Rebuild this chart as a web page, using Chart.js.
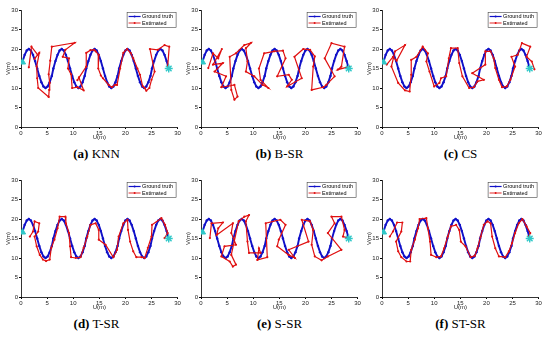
<!DOCTYPE html>
<html>
<head>
<meta charset="utf-8">
<script src="https://cdn.jsdelivr.net/npm/chart.js@4.4.0/dist/chart.umd.min.js"></script>
<style>
  body { margin: 0; background: #fff; width: 550px; height: 337px; overflow: hidden; }
  .panel { position: absolute; width: 183px; height: 145px; }
  .cap { position: absolute; width: 183px; text-align: center; font-family: "Liberation Serif", "DejaVu Serif", serif; font-size: 13px; color: #000; }
  .cap b { font-weight: bold; }
</style>
</head>
<body>
<div class="panel" style="left:0;top:0"><canvas id="c0" width="183" height="145"></canvas></div>
<div class="panel" style="left:180px;top:0"><canvas id="c1" width="183" height="145"></canvas></div>
<div class="panel" style="left:361px;top:0"><canvas id="c2" width="183" height="145"></canvas></div>
<div class="panel" style="left:0;top:170px"><canvas id="c3" width="183" height="145"></canvas></div>
<div class="panel" style="left:180px;top:170px"><canvas id="c4" width="183" height="145"></canvas></div>
<div class="panel" style="left:361px;top:170px"><canvas id="c5" width="183" height="145"></canvas></div>
<div class="cap" style="left:5px;top:146px"><b>(a)</b> KNN</div>
<div class="cap" style="left:188px;top:146px"><b>(b)</b> B-SR</div>
<div class="cap" style="left:369px;top:146px"><b>(c)</b> CS</div>
<div class="cap" style="left:5px;top:316px"><b>(d)</b> T-SR</div>
<div class="cap" style="left:188px;top:316px"><b>(e)</b> S-SR</div>
<div class="cap" style="left:369px;top:316px"><b>(f)</b> ST-SR</div>
<script>
// tick labels (both axes)
const uTicks = [0, 5, 10, 15, 20, 25, 30];
const vTicks = [0, 5, 10, 15, 20, 25, 30];
const seriesNames = ['Ground truth', 'Estimated'];

// start / end of the track
const startPt = [0.3, 16.6];
const endPt = [28.3, 15.0];

// ground truth track (U, V)
const truth = [
  [0.3,16.8],[0.7,18.5],[1.1,19.6],[1.5,20],[1.9,19.6],[2.3,18.5],[2.7,16.9],[3.1,15],[3.5,13.1],[3.9,11.5],
  [4.3,10.4],[4.7,10],[5.1,10.4],[5.5,11.5],[5.9,13.1],[6.2,15],[6.6,16.9],[7.0,18.5],[7.4,19.6],[7.8,20],
  [8.2,19.6],[8.6,18.5],[9.0,16.9],[9.4,15],[9.8,13.1],[10.2,11.5],[10.6,10.4],[11.0,10],[11.4,10.4],[11.8,11.5],
  [12.2,13.1],[12.5,15],[12.9,16.9],[13.3,18.5],[13.7,19.6],[14.1,20],[14.5,19.6],[14.9,18.5],[15.3,16.9],[15.7,15],
  [16.1,13.1],[16.5,11.5],[16.9,10.4],[17.3,10],[17.7,10.4],[18.1,11.5],[18.5,13.1],[18.8,15],[19.2,16.9],[19.6,18.5],
  [20.0,19.6],[20.4,20],[20.8,19.6],[21.2,18.5],[21.6,16.9],[22.0,15],[22.4,13.1],[22.8,11.5],[23.2,10.4],[23.6,10],
  [24.0,10.4],[24.4,11.5],[24.8,13.1],[25.1,15],[25.5,16.9],[25.9,18.5],[26.3,19.6],[26.7,20],[27.1,19.6],[27.5,18.5],
  [27.9,16.9],[28.3,15]
];

// estimated tracks, one per method
const knnEst = [
  [1.5,15.3],[2.0,20.6],[3.2,18.5],[2.6,17.5],[3.5,19.0],[3.0,15.5],[3.1,12.5],[3.3,10.0],[5.3,7.7],[5.4,9.5],
  [5.5,11.3],[5.3,13.5],[5.6,17.0],[5.9,20.6],[10.3,21.6],[8.5,19.8],[8.0,18.0],[9.2,17.6],[9.0,15.0],[9.6,13.5],
  [9.8,10.0],[10.8,10.2],[12.0,9.4],[11.1,12.7],[10.8,12.0],[12.5,15.5],[12.5,19.0],[13.3,19.7],[14.0,19.8],[14.3,19.4],
  [14.9,18.5],[14.8,15.0],[15.3,13.2],[15.7,12.5],[16.8,10.8],[17.4,10.2],[18.0,10.8],[18.4,10.8],[19.0,15.0],[19.6,19.0],
  [20.3,20.0],[21.0,19.0],[21.5,17.6],[22.3,15.0],[22.8,13.4],[23.3,10.5],[23.7,10.0],[24.0,9.3],[24.6,10.0],[25.0,12.1],
  [25.6,14.2],[24.7,20.0],[26.2,19.8],[27.5,21.0],[28.4,20.6],[28.1,15.5]
];
const bsrEst = [
  [1.4,15.1],[2.3,18.9],[3.3,17.6],[4.0,20.0],[2.3,16.0],[4.2,16.4],[2.6,14.2],[4.8,13.0],[3.9,10.2],[6.4,10.8],
  [7.0,7.8],[6.4,7.0],[5.8,9.5],[5.5,18.0],[6.7,18.9],[8.3,21.0],[9.6,21.6],[8.6,20.2],[8.9,16.8],[8.6,14.2],
  [10.2,13.0],[11.8,10.8],[12.9,10.0],[11.4,12.1],[11.1,15.0],[12.1,18.9],[14.0,19.4],[15.7,19.6],[16.2,17.6],[14.6,13.0],
  [16.8,13.4],[17.4,12.1],[16.5,10.4],[19.3,12.5],[17.9,18.0],[19.6,20.0],[20.9,19.8],[21.8,18.1],[21.5,15.5],[21.2,9.5],
  [23.4,10.2],[24.0,10.8],[25.6,13.0],[23.7,17.6],[25.0,21.5],[27.5,20.6],[26.9,15.5],[26.2,14.7],[28.4,15.5]
];
const csEst = [
  [0.9,16.0],[2.1,18.0],[2.8,17.0],[4.4,21.0],[2.5,19.4],[1.8,15.5],[3.1,11.3],[4.4,9.4],[5.3,9.1],[5.6,13.4],
  [5.6,17.2],[6.6,18.0],[7.8,20.6],[8.8,18.9],[8.5,16.8],[9.1,14.2],[10.0,10.4],[11.0,11.3],[11.3,12.5],[12.3,13.0],
  [12.8,17.6],[13.2,20.2],[14.5,20.2],[14.8,16.4],[15.4,13.0],[16.7,10.0],[17.6,10.2],[18.3,11.7],[19.5,12.1],[17.3,13.8],
  [19.8,16.0],[19.8,19.4],[20.8,19.4],[21.4,17.6],[21.7,15.1],[22.4,12.1],[23.0,10.2],[23.9,10.4],[24.6,12.1],[25.5,15.5],
  [24.8,18.0],[26.0,18.5],[26.8,21.5],[28.4,20.6],[27.7,18.0],[28.7,16.8],[29.2,14.8]
];
const tsrEst = [
  [1.7,15.5],[2.3,16.8],[2.6,19.4],[3.5,18.9],[3.3,16.8],[2.6,15.5],[3.0,13.0],[3.6,10.8],[4.2,9.6],[4.8,9.2],
  [5.5,9.6],[5.8,12.6],[6.4,14.7],[7.0,17.6],[7.4,20.6],[8.5,20.6],[8.6,18.9],[9.2,16.4],[9.4,13.0],[9.6,10.2],
  [10.5,10.0],[11.4,10.2],[12.0,12.6],[12.7,15.5],[13.3,18.5],[14.3,18.9],[14.9,17.2],[14.9,14.7],[16.2,13.4],[17.7,10.2],
  [18.4,12.1],[18.7,15.5],[19.6,18.9],[20.4,19.8],[20.5,17.2],[20.9,14.2],[21.5,11.7],[22.1,10.2],[23.1,10.2],[23.7,10.0],
  [24.3,12.6],[25.0,15.5],[25.1,18.5],[26.9,20.2],[27.6,18.5],[28.1,16.4],[27.5,15.1]
];
const ssrEst = [
  [1.7,15.1],[2.0,18.9],[4.2,19.1],[3.3,17.6],[3.0,15.9],[6.1,18.9],[5.8,16.4],[6.7,13.4],[4.5,13.0],[3.9,10.4],
  [5.5,9.1],[6.1,7.8],[6.7,8.3],[5.8,10.8],[7.2,19.4],[8.3,20.6],[9.2,21.0],[8.6,19.4],[8.9,14.2],[9.2,11.3],
  [11.4,11.3],[11.1,12.5],[10.8,9.5],[12.7,10.2],[12.4,18.9],[15.2,19.8],[16.2,18.5],[14.9,14.7],[14.6,13.0],[16.8,10.8],
  [18.0,10.0],[16.8,12.1],[20.6,14.2],[19.3,19.8],[20.9,19.4],[21.5,17.2],[21.2,13.4],[21.8,10.4],[23.1,9.4],[24.3,10.4],
  [26.9,12.1],[24.3,16.4],[25.6,18.9],[25.0,20.6],[26.9,20.6],[27.5,17.2],[27.2,15.5],[28.4,15.1]
];
const stsrEst = [
  [1.5,15.5],[2.1,16.8],[2.9,19.1],[3.9,19.1],[3.7,16.8],[2.7,14.2],[3.1,11.7],[3.7,10.2],[4.7,9.1],[5.4,9.1],
  [5.6,12.1],[6.3,14.7],[6.9,17.6],[7.2,20.0],[8.5,20.2],[8.8,17.6],[9.2,14.2],[9.4,10.8],[10.4,10.2],[11.3,10.4],
  [11.9,12.5],[12.6,15.5],[13.2,18.1],[14.2,18.5],[14.8,17.2],[15.1,14.2],[16.0,13.0],[17.0,10.2],[17.8,10.6],[18.3,12.5],
  [18.9,15.5],[19.5,18.5],[20.2,19.4],[20.8,18.9],[21.1,15.5],[21.7,12.5],[22.4,10.4],[23.6,10.2],[24.3,11.7],[24.9,13.8],
  [25.5,16.4],[26.2,18.9],[26.9,20.0],[27.7,18.1],[28.4,16.4],[28.1,15.5]
];

const estimates = [knnEst, bsrEst, csEst, tsrEst, ssrEst, stsrEst];

const BLUE = '#1010c8';
const RED = '#e01010';
const CYAN = '#30c8c8';
const tickFont = { family: 'Liberation Sans, Arial, sans-serif', size: 6 };

const toXY = arr => arr.map(p => ({ x: p[0], y: p[1] }));

// small boxed legend in the top-right corner (matlab style)
const boxLegend = {
  id: 'boxLegend',
  afterDraw(chart) {
    const ctx = chart.ctx;
    const a = chart.chartArea;
    const w = 49, h = 15;
    const x = a.right - w - 2, y = a.top + 2;
    ctx.save();
    ctx.fillStyle = '#fff';
    ctx.fillRect(x, y, w, h);
    ctx.strokeStyle = '#444';
    ctx.lineWidth = 0.6;
    ctx.strokeRect(x + 0.5, y + 0.5, w, h);
    const cols = [BLUE, RED];
    ctx.font = '5.5px Liberation Sans, Arial, sans-serif';
    ctx.textBaseline = 'middle';
    for (let i = 0; i < 2; i++) {
      const ly = y + 4.5 + i * 6.5;
      ctx.strokeStyle = cols[i];
      ctx.lineWidth = i === 0 ? 1.2 : 0.9;
      ctx.beginPath();
      ctx.moveTo(x + 2, ly);
      ctx.lineTo(x + 14, ly);
      ctx.stroke();
      ctx.fillStyle = cols[i];
      ctx.beginPath();
      ctx.arc(x + 8, ly, 1, 0, Math.PI * 2);
      ctx.fill();
      ctx.fillStyle = '#000';
      ctx.fillText(seriesNames[i], x + 15.5, ly + 0.3);
    }
    ctx.restore();
  }
};

function axis(title, ticks, isX) {
  return {
    type: 'linear',
    min: ticks[0],
    max: ticks[ticks.length - 1],
    afterBuildTicks: s => { s.ticks = ticks.map(v => ({ value: v })); },
    afterFit: s => { if (isX) s.height = 14; else s.width = 16; },
    grid: { display: true, drawOnChartArea: false, drawTicks: true, tickLength: 2, color: '#000' },
    border: { display: true, color: '#000', width: 0.8 },
    ticks: { font: tickFont, color: '#222', padding: 1, maxRotation: 0, autoSkip: false },
    title: { display: true, text: title, font: tickFont, color: '#222', padding: { top: 0, bottom: 0 } }
  };
}

// lower order = drawn later (on top): markers, then red, then blue underneath
estimates.forEach((est, i) => {
  new Chart(document.getElementById('c' + i), {
    type: 'scatter',
    data: {
      datasets: [
        { label: seriesNames[0], order: 2, data: toXY(truth), showLine: true, borderColor: BLUE, borderWidth: 1.9,
          pointRadius: 1.2, pointBackgroundColor: BLUE, pointBorderWidth: 0, tension: 0 },
        { label: seriesNames[1], order: 1, data: toXY(est), showLine: true, borderColor: RED, borderWidth: 1.2,
          pointRadius: 1.1, pointBackgroundColor: RED, pointBorderWidth: 0, tension: 0 },
        { label: 'start', order: 0, data: toXY([startPt]), pointStyle: 'triangle', pointRadius: 3.5,
          backgroundColor: CYAN, borderColor: CYAN, showLine: false },
        { label: 'end', order: 0, data: toXY([endPt]), pointStyle: 'star', pointRadius: 4, borderWidth: 1.4,
          backgroundColor: CYAN, borderColor: CYAN, showLine: false }
      ]
    },
    options: {
      responsive: false,
      devicePixelRatio: 1,
      animation: false,
      layout: { padding: { left: 5, right: 3, top: 10, bottom: 4 } },
      plugins: { legend: { display: false }, tooltip: { enabled: false } },
      scales: {
        x: axis('U(m)', uTicks, true),
        y: axis('V(m)', vTicks, false)
      }
    },
    plugins: [boxLegend]
  });
});
</script>
</body>
</html>
